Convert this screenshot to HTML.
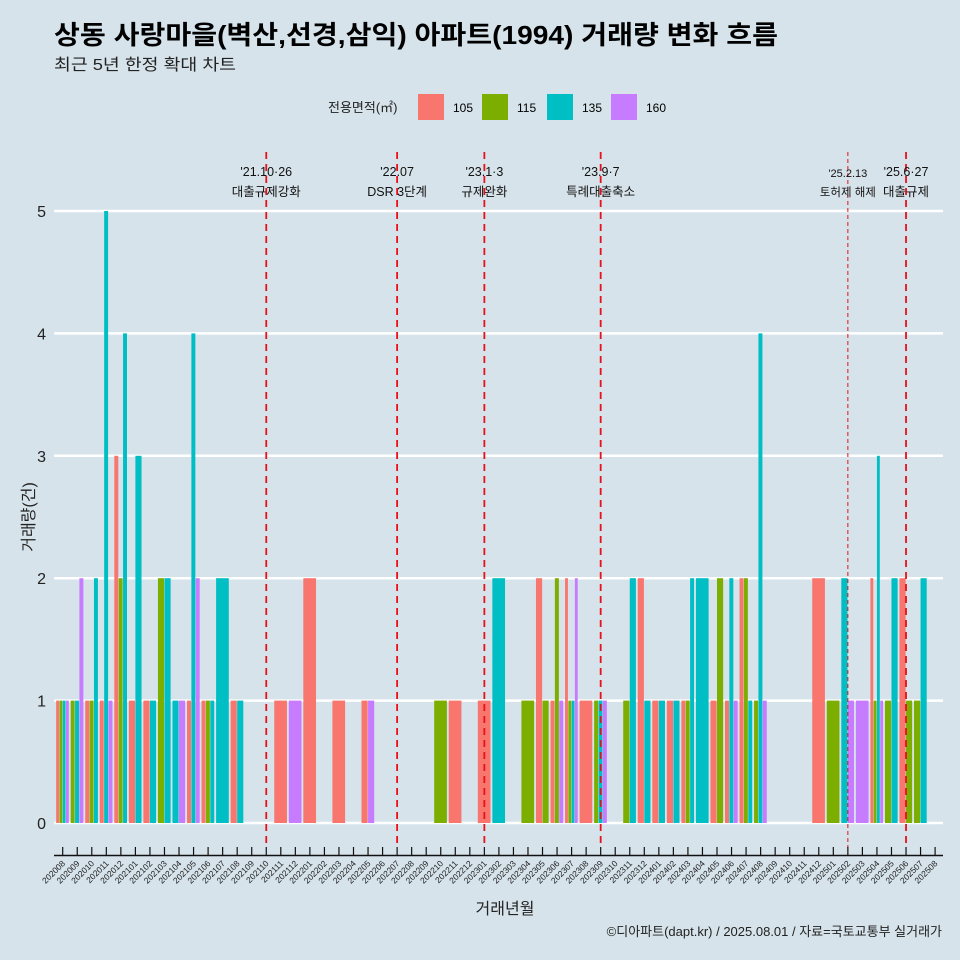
<!DOCTYPE html>
<html><head><meta charset="utf-8">
<style>
body{margin:0;background:#d6e3ea;}
svg{display:block;font-family:"Liberation Sans","Noto Sans CJK KR",sans-serif;}
</style></head><body>
<svg id="chart" width="960" height="960" viewBox="0 0 960 960">
<rect width="960" height="960" fill="#d6e3ea"/>
<text x="54" y="44" font-size="26" font-weight="bold" fill="#000" textLength="724" lengthAdjust="spacingAndGlyphs">상동 사랑마을(벽산,선경,삼익) 아파트(1994) 거래량 변화 흐름</text>
<text x="54" y="70" font-size="16" fill="#222" textLength="182" lengthAdjust="spacingAndGlyphs">최근 5년 한정 확대 차트</text>
<g>
<text x="328" y="112" font-size="13" fill="#222">전용면적(㎡)</text>
<rect x="418" y="94" width="26" height="26" fill="#F8766D"/>
<text x="453" y="112" font-size="12">105</text>
<rect x="482" y="94" width="26" height="26" fill="#7CAE00"/>
<text x="517" y="112" font-size="12">115</text>
<rect x="547" y="94" width="26" height="26" fill="#00BFC4"/>
<text x="582" y="112" font-size="12">135</text>
<rect x="611" y="94" width="26" height="26" fill="#C77CFF"/>
<text x="646" y="112" font-size="12">160</text>
</g>
<g id="grid"></g><g id="bars"></g><g id="events"></g><g id="xaxis"></g>
<text x="505" y="914" font-size="16" text-anchor="middle" fill="#222">거래년월</text>
<text transform="translate(34,517) rotate(-90)" font-size="16" text-anchor="middle" fill="#222">거래량(건)</text>
<text x="942" y="936" font-size="13" text-anchor="end" fill="#222">©디아파트(dapt.kr) / 2025.08.01 / 자료=국토교통부 실거래가</text>
</svg>
<script>
const months=[];
for(let y=2020,m=8;!(y===2025&&m===9);){months.push(y+String(m).padStart(2,'0'));m++;if(m>12){m=1;y++;}}
const sizes=['105','115','135','160'];
const colors=['#F8766D','#7CAE00','#00BFC4','#C77CFF'];
const v105={"202008":1,"202010":1,"202011":1,"202012":3,"202101":1,"202102":1,"202105":1,"202106":1,"202108":1,"202111":1,"202201":2,"202203":1,"202205":1,"202211":1,"202301":1,"202305":2,"202306":1,"202307":2,"202308":1,"202312":2,"202401":1,"202402":1,"202403":1,"202405":1,"202406":1,"202407":2,"202412":2,"202504":2,"202506":2};
const v115={"202008":1,"202009":1,"202010":1,"202012":2,"202103":2,"202106":1,"202210":1,"202304":1,"202305":1,"202306":2,"202307":1,"202309":1,"202311":1,"202403":1,"202405":2,"202407":2,"202408":1,"202501":1,"202504":1,"202505":1,"202506":1,"202507":1};
const v135={"202008":1,"202009":1,"202010":2,"202011":5,"202012":4,"202101":3,"202102":1,"202103":2,"202104":1,"202105":4,"202106":1,"202107":2,"202108":1,"202302":2,"202307":1,"202309":1,"202311":2,"202312":1,"202401":1,"202402":1,"202403":2,"202404":2,"202406":2,"202407":1,"202408":4,"202502":2,"202504":3,"202505":2,"202507":2};
const v160={"202008":1,"202009":2,"202011":1,"202104":1,"202105":2,"202112":1,"202205":1,"202306":1,"202307":2,"202309":1,"202406":1,"202408":1,"202502":1,"202503":1,"202504":1};
const series=[v105,v115,v135,v160];
const yTicks=[0,1,2,3,4,5];
const events=["202110","202207","202301","202309","202502","202506"];
const eventDates=["'21.10·26","'22.07","'23.1·3","'23.9·7","'25.2.13","'25.6·27"];
const eventNames=["대출규제강화","DSR 3단계","규제완화","특례대출축소","토허제 해제","대출규제"];
const eventThin=[false,false,false,false,true,false];

const NS='http://www.w3.org/2000/svg';
const x0=62.7,step=14.54,yBase=823,yUnit=122.4,plotL=54,plotR=943;
const xs=m=>x0+months.indexOf(m)*step;
const ys=v=>yBase-v*yUnit;
function mk(tag,attrs,parent){const e=document.createElementNS(NS,tag);for(const k in attrs)e.setAttribute(k,attrs[k]);parent.appendChild(e);return e;}
const grid=document.getElementById('grid');
yTicks.forEach(t=>{
  const l=mk('line',{x1:plotL,x2:plotR,y1:ys(t),y2:ys(t),stroke:'#fff','stroke-width':2.5},grid);
  
  
  const tx=mk('text',{x:46,y:ys(t)+6,'font-size':16,'text-anchor':'end',fill:'#222'},grid);
  tx.textContent=t;
  
  
});
const bars=document.getElementById('bars');
const slot=step*0.9;
months.forEach(m=>{
  const present=[];series.forEach((s,i)=>{if(s[m])present.push(i);});
  const w=slot/(present.length||1);
  present.forEach((si,k)=>{
    const v=series[si][m];
    const r=mk('rect',{x:xs(m)-slot/2+k*w,y:ys(v),width:Math.max(w-0.4,0.5),height:v*yUnit,fill:colors[si]},bars);
    
    
  });
});
const ev=document.getElementById('events');
events.forEach((m,i)=>{
  const x=xs(m);
  const l=mk('line',{x1:x,x2:x,y1:152,y2:848,stroke:'#e8101a','stroke-width':eventThin[i]?1:1.8,'stroke-dasharray':eventThin[i]?'4,3':'7,5'},ev);
  
  
  const t1=mk('text',{x:x,y:eventThin[i]?177:176,'font-size':eventThin[i]?11:12.5,'text-anchor':'middle',fill:'#111'},ev);
  t1.textContent=eventDates[i];
  
  
  const t2=mk('text',{x:x,y:196,'font-size':eventThin[i]?11.5:12.5,'text-anchor':'middle',fill:'#111'},ev);
  t2.textContent=eventNames[i];
  
  
});
const xa=document.getElementById('xaxis');
const al=mk('line',{x1:plotL,x2:plotR,y1:855.5,y2:855.5,stroke:'#111','stroke-width':1.5},xa);


months.forEach(m=>{
  const x=xs(m);
  const t=mk('line',{x1:x,x2:x,y1:847,y2:855,stroke:'#111','stroke-width':1.2},xa);
  
  
  const lb=mk('text',{transform:`translate(${x+3},${864}) rotate(-45)`,'font-size':8.5,'text-anchor':'end',fill:'#222'},xa);
  lb.textContent=m;
  
  
});
</script>
</body></html>
